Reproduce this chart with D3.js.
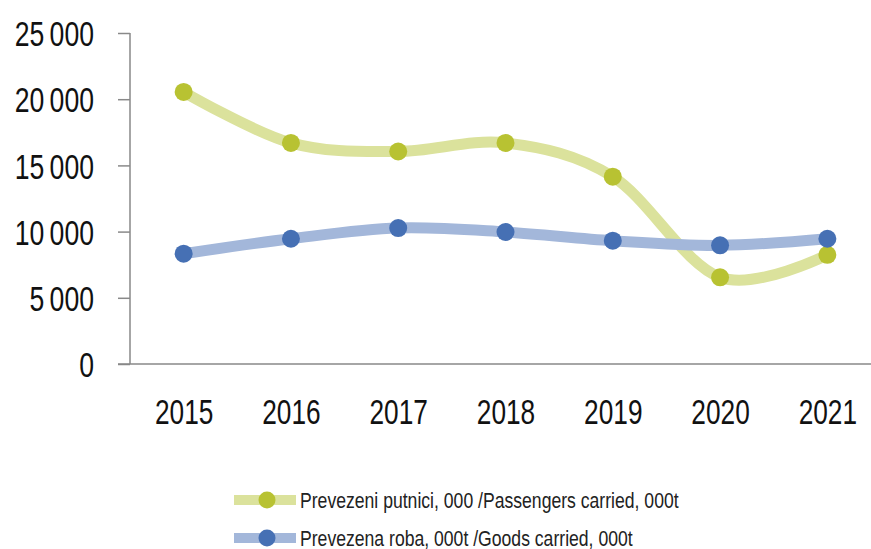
<!DOCTYPE html>
<html>
<head>
<meta charset="utf-8">
<script src="https://cdn.jsdelivr.net/npm/d3@7"></script>
<style>
  body { margin: 0; background: #fff; }
  svg { display: block; font-family: "Liberation Sans Narrow", "Liberation Sans", Arial, sans-serif; }
</style>
</head>
<body>
<svg id="chart" width="871" height="549"></svg>
<script>
const years = ["2015", "2016", "2017", "2018", "2019", "2020", "2021"];
const passengers = [20550, 16700, 16050, 16700, 14150, 6550, 8250];
const goods = [8330, 9460, 10270, 9970, 9310, 8960, 9460];
const yTicks = [0, 5000, 10000, 15000, 20000, 25000];
const legendLabels = [
  "Prevezeni putnici, 000 /Passengers carried, 000t",
  "Prevezena roba, 000t /Goods carried, 000t"
];

const svg = d3.select("#chart");

const x = d3.scalePoint()
  .domain(years)
  .range([130, 881])
  .padding(0.5);

const y = d3.scaleLinear()
  .domain([0, 25000])
  .range([364, 33]);

const fmt = d => d3.format(",")(d).replace(",", "\u2009");

// squeeze text horizontally, the reference uses a condensed face
function condense(sel, ratio) {
  sel.each(function () {
    const w = this.getComputedTextLength();
    d3.select(this)
      .attr("textLength", w * ratio)
      .attr("lengthAdjust", "spacingAndGlyphs");
  });
}

// y axis
const yAxis = svg.append("g")
  .attr("transform", "translate(130,0)")
  .call(d3.axisLeft(y).tickValues(yTicks).tickSize(12).tickPadding(24).tickFormat(fmt));
yAxis.select(".domain").attr("stroke", "#898989").attr("stroke-width", 1.5).attr("d", `M0,${y(25000)}V${y(0)}`);
yAxis.selectAll(".tick line").attr("stroke", "#898989").attr("stroke-width", 1.5);
yAxis.selectAll(".tick text")
  .attr("fill", "#111")
  .style("font-size", "35px")
  .attr("dy", "0.36em")
  .call(condense, 0.76);

// x axis
const xAxis = svg.append("g")
  .attr("transform", `translate(0,${y(0)})`)
  .call(d3.axisBottom(x).tickSize(0).tickPadding(35));
xAxis.select(".domain").attr("stroke", "#898989").attr("stroke-width", 1.5).attr("d", "M118,0H881");
xAxis.selectAll(".tick text")
  .attr("fill", "#111")
  .style("font-size", "35px")
  .call(condense, 0.75);

const series = [
  { values: passengers, line: "#dbe29c", dot: "#b8c232" },
  { values: goods, line: "#a3b7da", dot: "#4670b4" }
];

const line = d3.line()
  .x((d, i) => x(years[i]))
  .y(d => y(d))
  .curve(d3.curveCatmullRom.alpha(0));

series.forEach(s => {
  svg.append("path")
    .datum(s.values)
    .attr("fill", "none")
    .attr("stroke", s.line)
    .attr("stroke-width", 11)
    .attr("d", line);
});

series.forEach(s => {
  svg.append("g")
    .selectAll("circle")
    .data(s.values)
    .join("circle")
    .attr("cx", (d, i) => x(years[i]))
    .attr("cy", d => y(d))
    .attr("r", 9)
    .attr("fill", s.dot);
});

// legend
const legend = svg.append("g").attr("transform", "translate(234,500)");
series.forEach((s, i) => {
  const row = legend.append("g").attr("transform", `translate(0,${i * 38})`);
  row.append("line")
    .attr("x1", 0).attr("x2", 62)
    .attr("stroke", s.line)
    .attr("stroke-width", 10);
  row.append("circle")
    .attr("cx", 33).attr("r", 8.5)
    .attr("fill", s.dot);
  row.append("text")
    .attr("x", 66)
    .attr("dy", "0.36em")
    .attr("fill", "#222")
    .style("font-size", "22px")
    .text(legendLabels[i])
    .call(condense, 0.8);
});
</script>
</body>
</html>
